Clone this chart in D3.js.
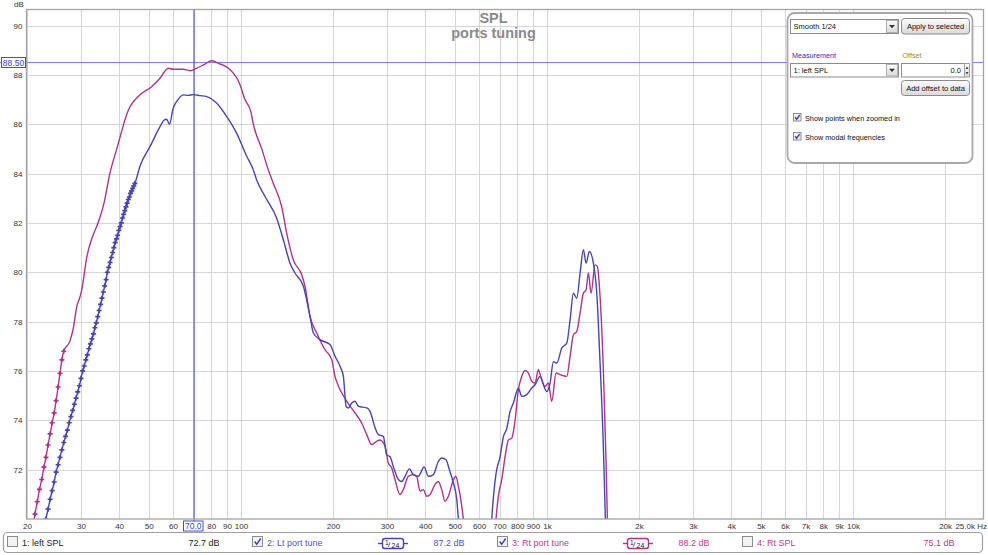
<!DOCTYPE html>
<html><head><meta charset="utf-8">
<script src="https://cdn.jsdelivr.net/npm/d3@7"></script>
<style>
html,body{margin:0;padding:0;background:#fff;overflow:hidden;}
svg{display:block;font-family:"Liberation Sans",Arial,sans-serif;}
</style></head><body>
<svg id="chart" width="988" height="555"></svg>
<script>
// ---------- DATA ----------
const freqTicks = [20,30,40,50,60,70,80,90,100,200,300,400,500,600,700,800,900,1000,2000,3000,4000,5000,6000,7000,8000,9000,10000,20000];
const dbTicks = [72,74,76,78,80,82,84,86,88,90];
const chartTitle = "SPL";
const chartSubtitle = "ports tuning";
const cursorFreq = 70;
const cursorDb = 88.5;

// 2: Lt port tune — low-frequency part where data points are shown
const ltMarkFreq = [22.71,23.07,23.44,23.80,24.17,24.54,24.90,25.27,25.63,26.00,26.37,26.73,27.10,27.47,27.83,28.20,28.56,28.93,29.30,29.66,30.03,30.40,30.76,31.13,31.49,31.86,32.23,32.59,32.96,33.33,33.69,34.06,34.42,34.79,35.16,35.52,35.89,36.26,36.62,36.99,37.35,37.72,38.09,38.45,38.82,39.19,39.55,39.92,40.28,40.65,41.02,41.38,41.75,42.11,42.48,42.85,43.21,43.58,43.95,44.31,44.68,45.04];
const ltMarkDb   = [69.4,70.0,70.4,70.8,71.15,71.5,71.9,72.2,72.5,72.8,73.1,73.35,73.6,73.9,74.15,74.4,74.65,74.9,75.15,75.4,75.7,76.0,76.2,76.45,76.65,76.9,77.1,77.3,77.5,77.75,77.95,78.2,78.45,78.7,78.95,79.2,79.45,79.7,80.0,80.2,80.4,80.6,80.8,81.0,81.2,81.35,81.5,81.7,81.85,82.0,82.2,82.35,82.5,82.65,82.8,82.95,83.05,83.2,83.3,83.4,83.5,83.6];
// 2: Lt port tune — rest of the curve
const ltFreq = [46.8,50.5,54.4,55.9,57.2,58.4,60.1,62.3,64.8,67.2,70.0,73.5,77.3,83.4,89.9,96.9,104.5,109.8,112.6,119.9,130.9,137.6,144.7,150.2,160.0,168.2,172.5,181.4,195.5,203.0,210.8,216.2,220.6,224.4,230.2,236.0,242.0,257.8,264.2,274.4,281.2,292.0,299.6,307.2,314.8,327.0,335.4,343.8,355.2,366.0,380.0,396.8,409.8,425.4,441.8,453.2,468.0,479.8,494.6,507.4,513.6,560,640,660.2,682.0,702.8,720.4,739.0,757.6,776.8,806.6,827.4,859.0,892.0,914.4,949.6,973.6,998.8,1024,1049.6,1076.6,1118.2,1161,1190.2,1220.2,1251.8,1283.2,1315.4,1342.4,1376.2,1418.2,1455,1491.4,1528.8,1552.2,1600];
const ltDb   = [84.3,85.1,85.9,86.15,86.2,86.0,86.65,87.0,87.19,87.17,87.2,87.16,87.12,86.85,86.31,85.63,84.7,84.15,83.74,83.07,82.19,81.32,80.37,79.97,79.43,78.21,77.54,77.27,77.07,76.6,76.19,75.78,74.57,74.5,74.7,74.77,74.57,74.5,74.36,73.7,73.42,73.35,72.6,72.52,72.13,71.6,71.52,71.73,72.03,71.8,71.73,72.11,71.73,71.8,72.33,72.47,72.4,72.0,71.46,70.78,70.0,66,66.5,70.0,71.85,72.52,73.33,73.67,74.35,74.7,75.3,74.97,75.04,75.31,75.44,75.78,75.44,75.17,75.51,76.38,76.32,76.93,77.13,78.07,79.15,78.95,79.97,80.91,80.37,80.84,80.37,79.15,76.32,72.94,70.0,62];

// 3: Rt port tune — low-frequency part where data points are shown
const rtMarkFreq = [20.88,21.24,21.61,21.97,22.34,22.71,23.07,23.44,23.80,24.17,24.54,24.90,25.27,25.63,26.00,26.37];
const rtMarkDb   = [69.6,70.2,70.7,71.2,71.6,72.1,72.5,73.0,73.45,73.9,74.3,74.8,75.35,75.9,76.45,76.8];
// 3: Rt port tune — rest of the curve
const rtFreq = [27.6,28.3,29.1,29.8,30.2,31.4,32.6,34.1,35.7,37.3,39.3,42.9,46.8,51.1,54.4,57.9,60.1,64.8,68.2,71.7,76.3,80.3,84.4,91.0,98.9,103.1,107.8,109.8,117.0,122.9,127.6,135.9,141.1,148.4,158.0,162.0,168.2,176.9,188.3,198.1,203.0,208.0,220.0,236.0,248.2,257.8,267.6,277.8,284.8,295.8,303.2,311.0,318.8,331.2,339.4,352.4,366.0,375.4,384.8,394.6,404.8,415.0,430.8,441.8,453.2,464.6,476.4,494.6,503.6,513.6,526.8,533.2,580,660,682.0,693.8,711.8,729.8,748.2,767.4,786.8,806.6,827.4,848.2,869.4,892.0,914.4,937.4,954.6,986.0,1010.6,1036.8,1071,1103.8,1161,1190.2,1220.2,1251.8,1283.2,1315.4,1342.4,1366,1393.8,1436.4,1461.2,1491.4,1528.8,1560.4,1575.6,1620];
const rtDb   = [77.2,77.7,78.62,79.0,79.3,80.64,81.38,81.99,82.8,84.0,85.0,86.58,87.19,87.52,87.86,88.27,88.23,88.23,88.17,88.27,88.44,88.57,88.47,88.27,87.66,87.0,86.5,86.0,85.0,84.15,83.6,82.66,81.59,80.5,79.9,79.43,78.21,77.54,76.86,76.46,75.78,75.4,74.84,74.3,73.89,73.42,73.02,73.15,73.2,72.95,72.27,72.07,71.6,70.99,71.19,71.73,71.8,71.73,71.13,71.19,70.92,70.99,71.4,71.52,71.19,70.72,70.92,71.59,71.73,71.33,70.52,70.0,65,66,70.0,70.92,71.6,72.52,73.2,73.27,74.0,75.24,75.78,76.02,75.92,75.58,75.51,76.05,75.78,75.37,75.51,74.77,75.92,75.85,75.78,76.59,77.46,77.6,78.34,79.15,79.28,79.97,79.15,80.3,80.24,79.02,76.05,72.27,70.0,62];

// legend
const legendNames   = ["1: left SPL","2: Lt port tune","3: Rt port tune","4: Rt SPL"];
const legendValues  = ["72.7 dB","87.2 dB","88.2 dB","75.1 dB"];
const legendChecked = [false,true,true,false];
const legendSmooth  = [false,true,true,false];

// ---------- DRAWING ----------
const svg = d3.select("#chart");
const BLUE = "#4545b8", MAG = "#b0318e";
const colors = ["#222222","#5353c8","#bb3a9c","#bb3a9c"];
const L = 26.5, R = 983.5, T = 9.5, B = 519;
const x = d3.scaleLog().domain([20, 26600]).range([27, 983]);
const y = d3.scaleLinear().domain([70, 90.65]).range([B, T]);

svg.append("rect").attr("width",988).attr("height",555).attr("fill","#fff");

const defs = svg.append("defs");
defs.append("clipPath").attr("id","clip").append("rect")
  .attr("x",L).attr("y",T).attr("width",R-L).attr("height",B-T);
const grad = defs.append("linearGradient").attr("id","btn").attr("x1",0).attr("y1",0).attr("x2",0).attr("y2",1);
grad.append("stop").attr("offset","0%").attr("stop-color","#fbfbfb");
grad.append("stop").attr("offset","100%").attr("stop-color","#dadada");

// grid
const grid = svg.append("g").attr("stroke","#d6d6d6").attr("stroke-width",1);
grid.selectAll("line.v").data(freqTicks).join("line")
  .attr("x1",d=>Math.round(x(d))+0.5).attr("x2",d=>Math.round(x(d))+0.5)
  .attr("y1",T).attr("y2",B);
grid.selectAll("line.h").data(dbTicks).join("line")
  .attr("x1",L).attr("x2",R)
  .attr("y1",d=>Math.round(y(d))+0.5).attr("y2",d=>Math.round(y(d))+0.5);

// axes
const fmtFreq = f => f===cursorFreq ? "" : (f>=1000 ? (f/1000)+"k" : String(f));
const xAxis = svg.append("g").attr("transform",`translate(0,${B})`)
  .call(d3.axisBottom(x).tickValues(freqTicks).tickFormat(fmtFreq).tickSize(0).tickPadding(4));
xAxis.select(".domain").remove();
xAxis.attr("font-family","Liberation Sans, Arial, sans-serif").attr("font-size",8).attr("color","#333");
svg.append("text").attr("x",987).attr("y",529).attr("text-anchor","end")
  .attr("font-size",8).attr("fill","#333").text("25.0k Hz");

const yAxis = svg.append("g").attr("transform",`translate(${L},0)`)
  .call(d3.axisLeft(y).tickValues(dbTicks).tickFormat(d3.format("d")).tickSize(0).tickPadding(4));
yAxis.select(".domain").remove();
yAxis.attr("font-family","Liberation Sans, Arial, sans-serif").attr("font-size",8).attr("color","#333");
svg.append("text").attr("x",19).attr("y",7).attr("text-anchor","middle")
  .attr("font-size",8).attr("fill","#333").text("dB");

// title
svg.append("text").attr("x",493.5).attr("y",23).attr("text-anchor","middle")
  .attr("font-size",14.5).attr("font-weight","bold").attr("fill","#8a8a8a").text(chartTitle);
svg.append("text").attr("x",493.5).attr("y",38).attr("text-anchor","middle")
  .attr("font-size",14.5).attr("font-weight","bold").attr("fill","#8a8a8a").text(chartSubtitle);

// cursor lines
svg.append("line").attr("x1",0).attr("x2",R).attr("y1",y(cursorDb)).attr("y2",y(cursorDb))
  .attr("stroke","#7a7af0").attr("stroke-width",1);
svg.append("line").attr("x1",Math.round(x(cursorFreq))).attr("x2",Math.round(x(cursorFreq))).attr("y1",T).attr("y2",B+2)
  .attr("stroke","#4848d0").attr("stroke-width",1.1);

// curves
const line = d3.line().x(d=>x(d[0])).y(d=>y(d[1])).curve(d3.curveMonotoneX);
const plotG = svg.append("g").attr("clip-path","url(#clip)");
function series(markF, markD, restF, restD, color){
  const all = markF.map((f,i)=>[f,markD[i]]).concat(restF.map((f,i)=>[f,restD[i]]));
  plotG.append("path").datum(all).attr("d",line).attr("fill","none")
    .attr("stroke",color).attr("stroke-width",1.4).attr("stroke-linejoin","round");
  const sym = d3.symbol(d3.symbolCross, 14);
  plotG.selectAll(null).data(markF.map((f,i)=>[f,markD[i]])).join("path")
    .attr("d",sym).attr("transform",d=>`translate(${x(d[0])},${y(d[1])})`).attr("fill",color);
}
series(rtMarkFreq, rtMarkDb, rtFreq, rtDb, MAG);
series(ltMarkFreq, ltMarkDb, ltFreq, ltDb, BLUE);

// border
svg.append("rect").attr("x",L).attr("y",T).attr("width",R-L).attr("height",B-T)
  .attr("fill","none").attr("stroke","#a4a4a4").attr("stroke-width",1.3);

// cursor labels
svg.append("rect").attr("x",1.5).attr("y",57.5).attr("width",24).attr("height",10)
  .attr("fill","#fff").attr("stroke","#4848e0").attr("stroke-width",1);
svg.append("text").attr("x",13.5).attr("y",65.5).attr("text-anchor","middle")
  .attr("font-size",8.5).attr("fill","#3d3dd0").text(d3.format(".2f")(cursorDb));
svg.append("rect").attr("x",183.5).attr("y",521).attr("width",19.5).attr("height",10)
  .attr("fill","#fff").attr("stroke","#4848e0").attr("stroke-width",1);
svg.append("text").attr("x",193.3).attr("y",529).attr("text-anchor","middle")
  .attr("font-size",8.5).attr("fill","#3d3dd0").text(d3.format(".1f")(cursorFreq));

// ---------- control panel ----------
const P = svg.append("g");
P.append("rect").attr("x",787.5).attr("y",13).attr("width",185).attr("height",150).attr("rx",7)
  .attr("fill","#fff").attr("stroke","#a8a8a8").attr("stroke-width",1.8);
function dropdown(x0,y0,w,h,label){
  P.append("rect").attr("x",x0).attr("y",y0).attr("width",w).attr("height",h)
    .attr("fill","#fff").attr("stroke","#8c8c8c");
  P.append("rect").attr("x",x0+w-12).attr("y",y0+1).attr("width",11).attr("height",h-2)
    .attr("fill","url(#btn)").attr("stroke","#b0b0b0");
  const cx = x0+w-6.5, cy = y0+h/2;
  P.append("path").attr("d",`M${cx-3},${cy-1.5}L${cx+3},${cy-1.5}L${cx},${cy+1.8}Z`).attr("fill","#333");
  P.append("text").attr("x",x0+3).attr("y",y0+h/2+2.7).attr("font-size",7.5).attr("fill","#111").text(label);
}
function button(x0,y0,w,h,label){
  P.append("rect").attr("x",x0).attr("y",y0).attr("width",w).attr("height",h).attr("rx",3)
    .attr("fill","url(#btn)").attr("stroke","#8a8a8a");
  P.append("text").attr("x",x0+w/2).attr("y",y0+h/2+2.7).attr("text-anchor","middle")
    .attr("font-size",7.5).attr("fill","#111").text(label);
}
function checkbox(g,x0,y0,s,checked){
  g.append("rect").attr("x",x0).attr("y",y0).attr("width",s).attr("height",s)
    .attr("fill","#f2f2f2").attr("stroke","#8c8c8c");
  if(checked) g.append("path")
    .attr("d",`M${x0+s*0.22},${y0+s*0.5}L${x0+s*0.42},${y0+s*0.78}L${x0+s*0.82},${y0+s*0.2}`)
    .attr("fill","none").attr("stroke","#3c3cc0").attr("stroke-width",1.4);
}
dropdown(790.5,19.5,108,14,"Smooth 1/24");
button(901.5,18.5,68,15.5,"Apply to selected");
P.append("text").attr("x",792).attr("y",57.5).attr("font-size",7.2).attr("fill","#2e2eb0").text("Measurement");
P.append("text").attr("x",902.5).attr("y",57.5).attr("font-size",7.2).attr("fill","#8f8f1c").text("Offset");
dropdown(790.5,63.5,108,13.5,"1: left SPL");
P.append("rect").attr("x",901.5).attr("y",63.5).attr("width",63).attr("height",13.5).attr("fill","#fff").attr("stroke","#8c8c8c");
P.append("text").attr("x",961).attr("y",73).attr("text-anchor","end").attr("font-size",7.5).attr("fill","#111").text("0.0");
P.append("rect").attr("x",964.5).attr("y",63.5).attr("width",5).attr("height",13.5).attr("fill","url(#btn)").attr("stroke","#a0a0a0");
P.append("path").attr("d","M965.5,69L967,66.5L968.5,69Z M965.5,72L967,74.5L968.5,72Z").attr("fill","#444");
button(901.5,80.5,68,15,"Add offset to data");
checkbox(P,793.5,113.5,7.5,true);
P.append("text").attr("x",805).attr("y",120.5).attr("font-size",7.3).attr("fill","#111").text("Show points when zoomed in");
checkbox(P,793.5,132.5,7.5,true);
P.append("text").attr("x",805).attr("y",139.5).attr("font-size",7.3).attr("fill","#111").text("Show modal frequencies");

// ---------- legend bar ----------
const LG = svg.append("g");
LG.append("rect").attr("x",3.5).attr("y",532.5).attr("width",979).attr("height",20).attr("rx",4)
  .attr("fill","#fff").attr("stroke","#a0a0a0").attr("stroke-width",1.2);
const boxX = [7.5,252.5,497.5,742.5];
const valEnd = [219.5,464.5,709.5,954.5];
const iconX = [0,378,623,0];
legendNames.forEach((name,i)=>{
  checkbox(LG,boxX[i],536.5,10,legendChecked[i]);
  LG.append("text").attr("x",boxX[i]+14.5).attr("y",546).attr("font-size",9).attr("fill",colors[i]).text(name);
  LG.append("text").attr("x",valEnd[i]).attr("y",546).attr("text-anchor","end")
    .attr("font-size",9).attr("fill",colors[i]).text(legendValues[i]);
  if(legendSmooth[i]){
    const c = i===1 ? BLUE : MAG, x0 = iconX[i];
    LG.append("line").attr("x1",x0).attr("x2",x0+30).attr("y1",543.5).attr("y2",543.5).attr("stroke",c).attr("stroke-width",1.4);
    LG.append("rect").attr("x",x0+4.5).attr("y",538.5).attr("width",21).attr("height",10).attr("rx",2.5)
      .attr("fill","#fff").attr("stroke",c).attr("stroke-width",1.4);
    LG.append("text").attr("x",x0+7).attr("y",545).attr("font-size",6.5).attr("fill","#222").text("1");
    LG.append("text").attr("x",x0+10).attr("y",547).attr("font-size",8).attr("fill","#222").text("/");
    LG.append("text").attr("x",x0+13.5).attr("y",548).attr("font-size",7).attr("fill","#222").text("24");
  }
});
</script>
</body></html>
